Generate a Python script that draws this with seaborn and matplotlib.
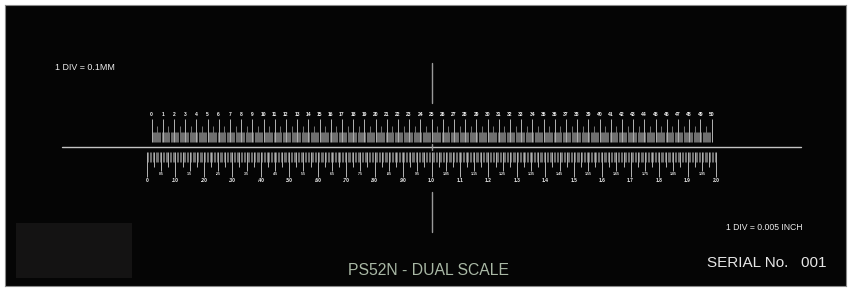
import numpy as np
import pandas as pd
import matplotlib
matplotlib.use("Agg")
import matplotlib.pyplot as plt
import seaborn as sns

# ---------------- data ----------------
mm_labels = [str(i) for i in range(0, 51)]              # top scale labels (mm)
mm_div = 0.1                                            # 1 DIV = 0.1 mm
mm_range = 50
inch_major_labels = ["0", ".10", ".20", ".30", ".40", ".50", ".60", ".70", ".80", ".90",
                     "1.0", "1.1", "1.2", "1.3", "1.4", "1.5", "1.6", "1.7", "1.8", "1.9", "2.0"]
inch_minor_labels = [".05", ".15", ".25", ".35", ".45", ".55", ".65", ".75", ".85", ".95",
                     "1.05", "1.15", "1.25", "1.35", "1.45", "1.55", "1.65", "1.75", "1.85", "1.95"]
inch_div = 0.005                                        # 1 DIV = 0.005 inch
inch_range = 2.0
title_text = "PS52N - DUAL SCALE"
serial_text = "SERIAL No.   001"
mm_note = "1 DIV = 0.1MM"
inch_note = "1 DIV = 0.005 INCH"

# ---------------- style ----------------
sns.set_theme(style="dark")
plt.rcParams["font.family"] = ["Liberation Sans", "DejaVu Sans"]

W, H = 851, 288
fig = plt.figure(figsize=(W / 100, H / 100), dpi=100, facecolor="white")
L, R, T, B = 5, 846, 5, 286
ax = fig.add_axes([L / W, (H - B) / H, (R - L) / W, (B - T) / H])
ax.set_facecolor("#050505")
px_per_mm = 11.2
cx_px = 431.5
center_mm = 25.0
ax.set_xlim(center_mm + (L - cx_px) / px_per_mm, center_mm + (R - cx_px) / px_per_mm)
ax.set_ylim(B, T)
for s in ax.spines.values():
    s.set_color("#8a8a8a")
    s.set_linewidth(0.8)

# ---------------- top scale (mm) ----------------
n_mm = int(round(mm_range / mm_div))
k = np.arange(n_mm + 1)
x_mm = k * mm_div
top_start = np.where(k % 10 == 0, 119.0, np.where(k % 5 == 0, 125.7, 132.3))
ax.vlines(x_mm[k % 10 != 0], top_start[k % 10 != 0], 142.0, color="#c4c4c4", lw=0.4)
ax.vlines(x_mm[k % 10 == 0], top_start[k % 10 == 0], 142.0, color="#d0d0d0", lw=0.6)
for i, lab in enumerate(mm_labels):
    ax.text(i, 114.5, lab, color="#f4f4f4", fontsize=3.6, ha="center", va="center",
            fontweight="bold")

# ---------------- bottom scale (inch) ----------------
offset_mm = center_mm - 25.4 * (inch_range / 2)
n_in = int(round(inch_range / inch_div))
j = np.arange(n_in + 1)
x_in = offset_mm + 25.4 * j * inch_div
bot_end = np.where(j % 20 == 0, 176.7,
          np.where(j % 10 == 0, 170.5,
          np.where(j % 5 == 0, 166.7, 162.3)))
minor = j % 5 != 0
ax.vlines(x_in[minor], 152.3, bot_end[minor], color="#c8c8c8", lw=0.4)
ax.vlines(x_in[~minor], 152.3, bot_end[~minor], color="#d0d0d0", lw=0.6)
for i, lab in enumerate(inch_major_labels):
    ax.text(offset_mm + 25.4 * 0.1 * i, 180.2, lab, color="#f4f4f4", fontsize=3.5,
            ha="center", va="center", fontweight="bold")
for i, lab in enumerate(inch_minor_labels):
    ax.text(offset_mm + 25.4 * (0.05 + 0.1 * i), 173.8, lab, color="#eeeeee", fontsize=2.5,
            ha="center", va="center", fontweight="bold")

# ---------------- baseline & crosshair ----------------
base = pd.DataFrame({"x": [-8.0, 58.0], "y": [147.0, 147.0]})
sns.lineplot(data=base, x="x", y="y", ax=ax, color="#c4c4c4", lw=1.0, sort=False)
cross = pd.DataFrame({
    "x": [center_mm] * 6,
    "y": [62.5, 102.7, 144.0, 150.0, 191.7, 231.7],
    "seg": [0, 0, 1, 1, 2, 2],
})
sns.lineplot(data=cross, x="x", y="y", units="seg", estimator=None, ax=ax,
             color="#9a9a9a", lw=1.0, sort=False)
ax.set_xlabel("")
ax.set_ylabel("")
ax.set_xticks([])
ax.set_yticks([])

# ---------------- texts ----------------
def mm_at(px):
    return center_mm + (px - cx_px) / px_per_mm

ax.text(mm_at(55), 67.0, mm_note, color="#ececec", fontsize=6.4, ha="left", va="center")
ax.text(mm_at(725.7), 227.7, inch_note, color="#ececec", fontsize=6.2, ha="left", va="center")
ax.text(mm_at(706.7), 263.3, serial_text, color="#e6e6e6", fontsize=11.0, ha="left", va="center")
ax.text(mm_at(428.3), 270.7, title_text, color="#a9b8a5", fontsize=11.3, ha="center", va="center")

# dark label pad
ax.add_patch(plt.Rectangle((mm_at(16), 222.7), (132 - 16) / px_per_mm, 278 - 222.7,
                           facecolor="#141313", edgecolor="none"))

fig.savefig("out.png", dpi=100, facecolor="white")
